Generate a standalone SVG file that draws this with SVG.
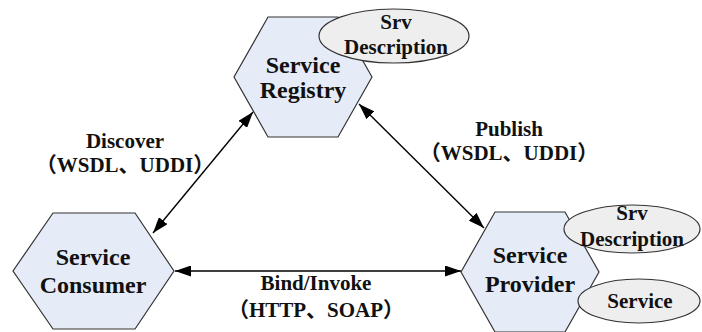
<svg xmlns="http://www.w3.org/2000/svg" width="702" height="332" viewBox="0 0 702 332">
<style>
.hex{fill:#E6ECF7;stroke:#333;stroke-width:1.2}
.ell{fill:#EEEEEE;stroke:#333;stroke-width:1.2}
text{font-family:'Liberation Serif',serif;font-weight:bold;fill:#111;text-anchor:middle}
.cjk{font-family:'Liberation Serif','Noto Sans CJK SC',serif}
.big{font-size:24px}
.sm{font-size:21px}
.sv{font-size:21px}
.lbl{font-size:21px}
.con{stroke:#000;stroke-width:1.4;fill:none;marker-start:url(#ah);marker-end:url(#ah)}
</style>
<defs>
<marker id="ah" viewBox="0 0 16 11" refX="16" refY="5.5" markerWidth="16" markerHeight="11" markerUnits="userSpaceOnUse" orient="auto-start-reverse">
<path d="M0,0 L16,5.5 L0,11 Z" fill="#000"/>
</marker>
</defs>
<g id="connectors">
<line class="con" x1="153" y1="233" x2="253" y2="112"/>
<line class="con" x1="359" y1="104" x2="484" y2="228"/>
<line class="con" x1="175" y1="271" x2="461" y2="271"/>
</g>
<g id="registry">
<polygon class="hex" points="268,17 338,17 372,77 338,137 268,137 234,77"/>
<text class="big" x="303" y="73">Service</text>
<text class="big" x="303" y="98">Registry</text>
</g>
<g id="registry-desc">
<ellipse class="ell" cx="394" cy="36" rx="75" ry="27"/>
<text class="sm" x="396" y="29">Srv</text>
<text class="sm" x="396" y="54">Description</text>
</g>
<g id="consumer">
<polygon class="hex" points="53,213 135,213 174,271 135,329 53,329 13,271"/>
<text class="big" x="93" y="265">Service</text>
<text class="big" x="93" y="293">Consumer</text>
</g>
<g id="provider">
<polygon class="hex" points="495,212 565,212 599,272 565,332 495,332 461,272"/>
<text class="big" x="530" y="263">Service</text>
<text class="big" x="530" y="292">Provider</text>
</g>
<g id="provider-desc">
<ellipse class="ell" cx="632" cy="229" rx="68" ry="24"/>
<text class="sm" x="632" y="220">Srv</text>
<text class="sm" x="632" y="246">Description</text>
</g>
<g id="provider-service">
<ellipse class="ell" cx="639" cy="301" rx="61" ry="22"/>
<text class="sv" x="640" y="308">Service</text>
</g>
<g id="labels">
<text class="lbl" x="125" y="148">Discover</text>
<text class="lbl cjk" x="125" y="172">（WSDL、UDDI）</text>
<text class="lbl" x="509" y="136">Publish</text>
<text class="lbl cjk" x="509" y="160">（WSDL、UDDI）</text>
<text class="lbl" x="316" y="290">Bind/Invoke</text>
<text class="lbl cjk" x="316" y="317">（HTTP、SOAP）</text>
</g>
</svg>
